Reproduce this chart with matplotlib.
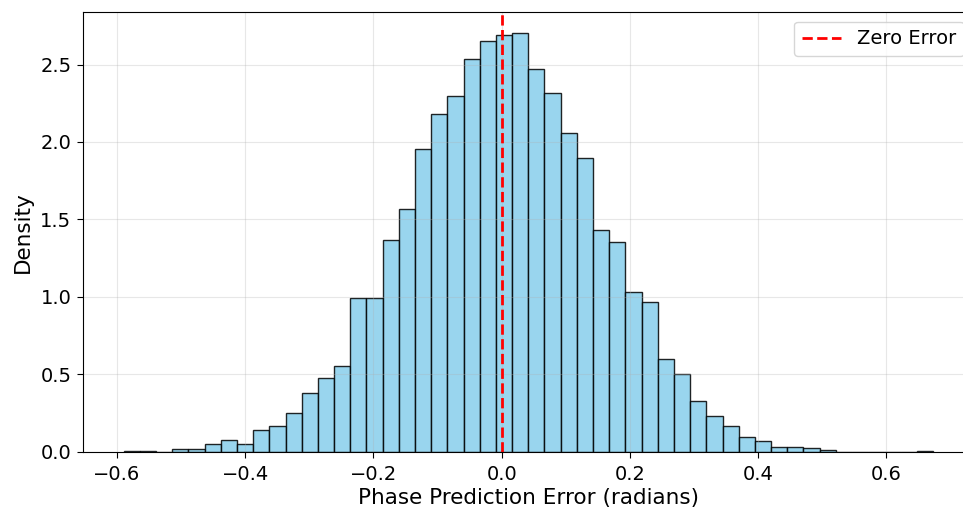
import matplotlib
matplotlib.use("Agg")
import matplotlib.pyplot as plt
import numpy as np

# Histogram data (density per bin), 50 equal bins
bin_start = -0.5897
bin_width = 0.02525
densities = [0.005, 0.005, 0.0, 0.019, 0.015, 0.049, 0.073, 0.049, 0.141, 0.165,
             0.247, 0.376, 0.475, 0.554, 0.991, 0.991, 1.365, 1.565, 1.954, 2.180,
             2.299, 2.537, 2.651, 2.690, 2.705, 2.473, 2.318, 2.060, 1.899, 1.430,
             1.354, 1.030, 0.967, 0.595, 0.499, 0.328, 0.232, 0.167, 0.096, 0.070,
             0.032, 0.032, 0.023, 0.012, 0.0, 0.0, 0.0, 0.0, 0.0, 0.005]
zero_line = 0.0

edges = bin_start + bin_width * np.arange(len(densities) + 1)
centers = (edges[:-1] + edges[1:]) / 2

fig = plt.figure(figsize=(9.63, 5.16), dpi=100)
ax = fig.add_axes([0.0864, 0.1248, 0.9244, 0.8522])

ax.hist(centers, bins=edges, weights=densities, color='skyblue', alpha=0.85,
        edgecolor='black', linewidth=1.0)
ax.axvline(zero_line, color='red', linestyle='--', linewidth=2, label='Zero Error')

ax.set_xlabel('Phase Prediction Error (radians)', fontsize=15.5, labelpad=3)
ax.set_ylabel('Density', fontsize=15.5, labelpad=5)
ax.tick_params(labelsize=14, length=4.5)
ax.tick_params(axis='x', pad=5)
ax.tick_params(axis='y', pad=4)
ax.grid(True, alpha=0.3)
ax.legend(fontsize=14, loc='upper right')

fig.savefig('out.png', dpi=100)
